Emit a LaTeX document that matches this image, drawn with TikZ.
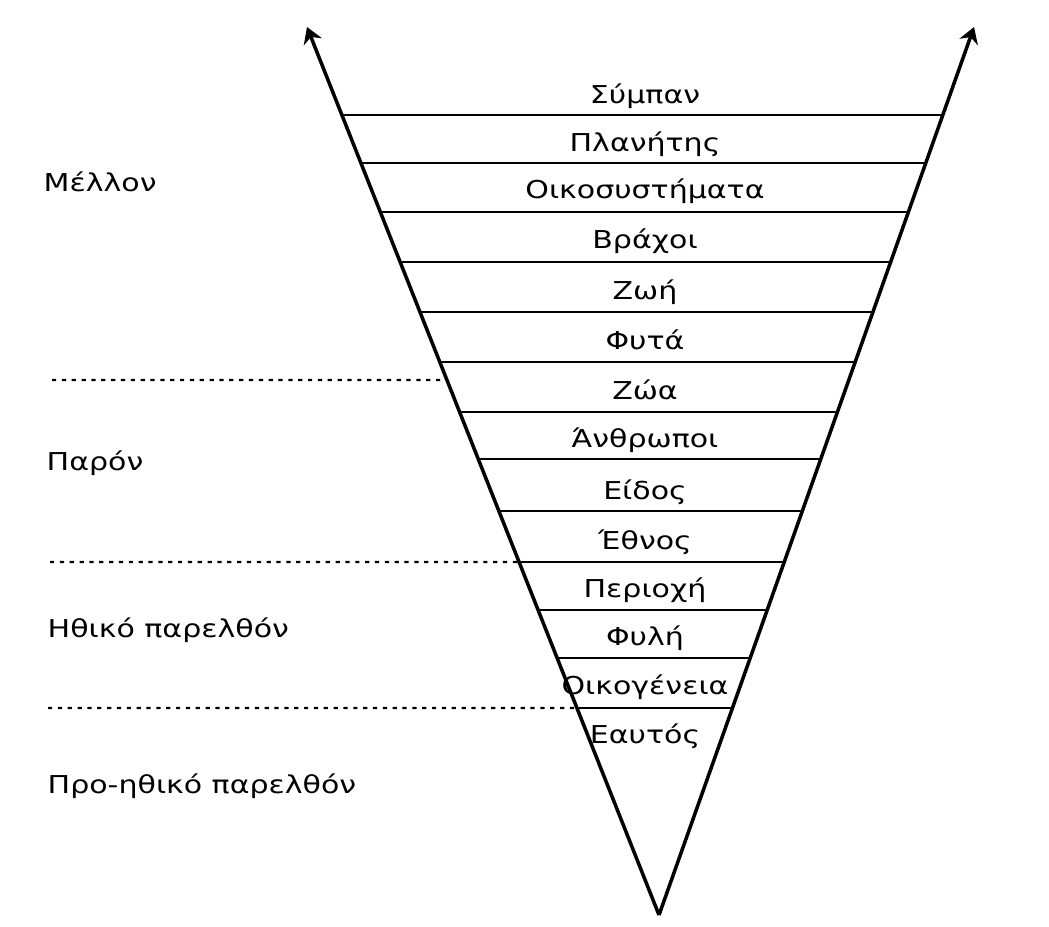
\documentclass[tikz,border=0pt]{standalone}
\usepackage{fontspec}
\setmainfont{DejaVu Sans}[FakeStretch=1.22]
\usetikzlibrary{arrows.meta, calc}

\begin{document}
\begin{tikzpicture}
    [
        x=0.01cm, y=-0.01cm,
        edge/.style={line width=1pt, -{Stealth[length=4.5pt, width=5.5pt]}},
        rung/.style={line width=0.6pt},
        era/.style={line width=0.6pt, dash pattern=on 1.2pt off 1.6pt},
        level/.style={font=\fontsize{7}{8}\selectfont, anchor=base, inner sep=0pt},
        period/.style={font=\fontsize{7}{8}\selectfont, anchor=base west, inner sep=0pt},
    ]
    \useasboundingbox (0,0) rectangle (1049,926);
    \coordinate (apex) at (659,915);
    \coordinate (left tip) at (307,27);
    \coordinate (right tip) at (974,27);
    \draw[edge] (apex) -- (left tip);
    \draw[edge] (apex) -- (right tip);

    % rungs of the cone
    \foreach \y [count=\i] in {115,163,212,262,312,362,412,459,511,562,610,658,708}
    {
        \pgfmathsetmacro\t{(915-\y)/888}
        \coordinate (l\i) at ($(apex)!\t!(left tip)$);
        \coordinate (r\i) at ($(apex)!\t!(right tip)$);
        \draw[rung] (l\i) -- (r\i);
    }

    % levels
    \foreach \txt/\y [count=\i] in {Σύμπαν/103, Πλανήτης/151, Οικοσυστήματα/198, Βράχοι/248,
        Ζωή/299, Φυτά/349, Ζώα/399, Άνθρωποι/447, Είδος/499, Έθνος/549,
        Περιοχή/597, Φυλή/645, Οικογένεια/694, Εαυτός/743}
        \node[level] (level\i) at (645,\y) {\txt};

    % periods
    \node[period] (future) at (43,191) {Μέλλον};
    \node[period] (present) at (46,470) {Παρόν};
    \node[period] (moral past) at (47,637) {Ηθικό παρελθόν};
    \node[period] (premoral past) at (47,793) {Προ-ηθικό παρελθόν};

    \coordinate (d1) at (52,380);
    \coordinate (d2) at (50,562);
    \coordinate (d3) at (48,708);
    \coordinate (e1) at ($(apex)!{(915-380)/888}!(left tip)$);
    \draw[era] (d1) -- (e1);
    \draw[era] (d2) -- (l10);
    \draw[era] (d3) -- (l13);
\end{tikzpicture}
\end{document}
